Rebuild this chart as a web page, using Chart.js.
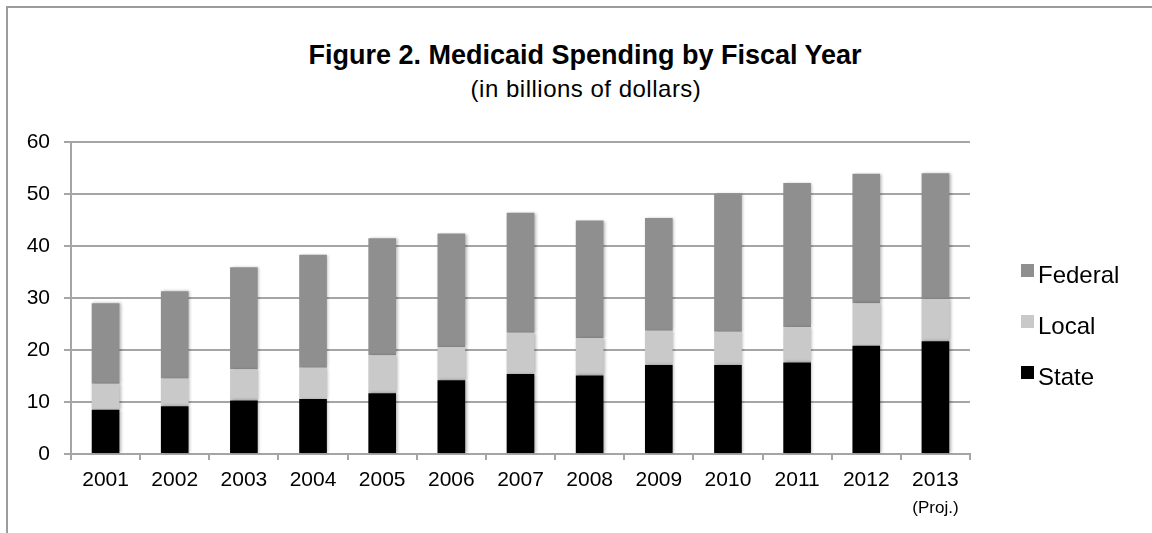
<!DOCTYPE html>
<html>
<head>
<meta charset="utf-8">
<title>Medicaid Spending by Fiscal Year</title>
<script src="https://cdn.jsdelivr.net/npm/chart.js@4.4.0/dist/chart.umd.min.js"></script>
<style>
  html, body { margin: 0; padding: 0; background: #fff; }
  #wrap { position: relative; width: 1152px; height: 533px; overflow: hidden; font-family: "Liberation Sans", Arial, sans-serif; }
  #frame { position: absolute; left: 6px; top: 6px; right: -10px; bottom: -10px; border-left: 2px solid #9c9c9c; border-top: 2px solid #9c9c9c; }
  #title { position: absolute; left: 0; width: 1170px; top: 40px; text-align: center; font-size: 27px; font-weight: bold; color: #000; }
  #subtitle { position: absolute; left: 0; width: 1172px; top: 75px; text-align: center; font-size: 24px; letter-spacing: 0.5px; color: #000; }
  #legend { position: absolute; left: 1021px; top: 258px; }
  .item { position: relative; height: 51px; font-size: 24px; color: #000; }
  .item span.box { position: absolute; left: 0; top: 6px; width: 13px; height: 13px; }
  .item span.txt { position: absolute; left: 17px; top: 3px; white-space: nowrap; }
  canvas { position: absolute; left: 0; top: 0; }
</style>
</head>
<body>
<div id="wrap">
  <div id="frame"></div>
  <div id="title">Figure 2. Medicaid Spending by Fiscal Year</div>
  <div id="subtitle">(in billions of dollars)</div>
  <canvas id="chart" width="1152" height="533"></canvas>
  <div id="legend"></div>
</div>
<script>
// Data (billions of dollars)
const years = ['2001', '2002', '2003', '2004', '2005', '2006', '2007', '2008', '2009', '2010', '2011', '2012', '2013'];
const projNote = '(Proj.)'; // sits under the last year
const stateValues = [8.5, 9.2, 10.3, 10.6, 11.7, 14.2, 15.4, 15.1, 17.1, 17.1, 17.6, 20.8, 21.7];
const localValues = [5.0, 5.3, 6.0, 6.0, 7.3, 6.4, 7.9, 7.2, 6.6, 6.4, 6.8, 8.2, 8.1];
const federalValues = [15.5, 16.8, 19.6, 21.7, 22.5, 21.8, 23.1, 22.6, 21.7, 26.5, 27.7, 24.9, 24.2];
const yTicks = [0, 10, 20, 30, 40, 50, 60];

const gridColor = '#a5a5a5';
const fontFamily = '"Liberation Sans", Arial, sans-serif';

// Stack order bottom -> top
const series = [
  { label: 'State', data: stateValues, color: '#000000' },
  { label: 'Local', data: localValues, color: '#c9c9c9' },
  { label: 'Federal', data: federalValues, color: '#8f8f8f' },
];

// soft shadow behind the bars, like the original
const barShadow = {
  id: 'barShadow',
  beforeDatasetsDraw(chart) {
    const ctx = chart.ctx;
    ctx.save();
    ctx.shadowColor = 'rgba(0,0,0,0.30)';
    ctx.shadowBlur = 3;
    ctx.shadowOffsetX = 1.5;
    ctx.shadowOffsetY = 0;
  },
  afterDatasetsDraw(chart) {
    chart.ctx.restore();
  }
};

// small "(Proj.)" note below the last category label
const projLabel = {
  id: 'projLabel',
  afterDraw(chart) {
    const x = chart.scales.x;
    const ctx = chart.ctx;
    ctx.save();
    ctx.font = '17px ' + fontFamily;
    ctx.fillStyle = '#000';
    ctx.textAlign = 'center';
    ctx.textBaseline = 'middle';
    ctx.fillText(projNote, x.getPixelForValue(years.length - 1), 508);
    ctx.restore();
  }
};

function createChart() {
  const ctx = document.getElementById('chart');
  const chartConfig = {
    type: 'bar',
    data: {
      labels: years,
      datasets: series.map(s => ({
        label: s.label,
        data: s.data,
        backgroundColor: s.color,
        borderWidth: 0,
        barPercentage: 0.4,
        categoryPercentage: 1.0,
      })),
    },
    options: {
      responsive: false,
      animation: false,
      layout: { padding: { left: 11, right: 182, top: 142, bottom: 0 } },
      plugins: {
        legend: { display: false },
        title: { display: false },
        tooltip: { enabled: false },
      },
      scales: {
        x: {
          stacked: true,
          offset: true,
          grid: { display: true, drawOnChartArea: false, drawTicks: true, tickLength: 6, color: gridColor, lineWidth: 2 },
          border: { display: true, color: gridColor, width: 2 },
          ticks: { color: '#000', font: { family: fontFamily, size: 21 }, padding: 8, maxRotation: 0, autoSkip: false },
          afterFit(scale) { scale.height = 79; },
        },
        y: {
          stacked: true,
          min: 0,
          max: 60,
          afterBuildTicks(scale) { scale.ticks = yTicks.map(v => ({ value: v })); },
          grid: { color: gridColor, lineWidth: 2, drawTicks: true, tickLength: 7 },
          border: { display: true, color: gridColor, width: 2 },
          ticks: { color: '#000', font: { family: fontFamily, size: 21 }, padding: 14 },
          afterFit(scale) { scale.width = 60; },
        },
      },
    },
    plugins: [barShadow, projLabel],
  };
  return new Chart(ctx, chartConfig);
}

// Legend: Federal, Local, State (top to bottom)
function buildLegend() {
  const legend = document.getElementById('legend');
  series.slice().reverse().forEach(s => {
    const item = document.createElement('div');
    item.className = 'item';
    item.innerHTML = '<span class="box" style="background:' + s.color + '"></span><span class="txt">' + s.label + '</span>';
    legend.appendChild(item);
  });
}

createChart();
buildLegend();
</script>
</body>
</html>
